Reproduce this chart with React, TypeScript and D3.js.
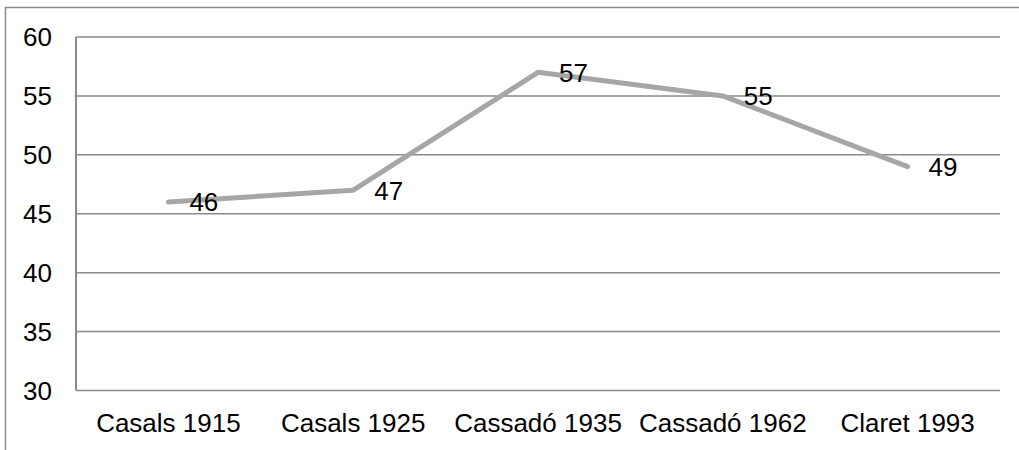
import React from "react";
import * as d3 from "d3";

const categories = ["Casals 1915", "Casals 1925", "Cassadó 1935", "Cassadó 1962", "Claret 1993"];
const values = [46, 47, 57, 55, 49];
const yTicks = [30, 35, 40, 45, 50, 55, 60];

const W = 1019;
const H = 450;
const margin = { left: 76, right: 19, top: 37, bottom: 59.5 };
const font = "'Liberation Sans', Arial, sans-serif";

const App = () => {
  const x = d3
    .scaleBand()
    .domain(categories)
    .range([margin.left, W - margin.right]);
  const y = d3
    .scaleLinear()
    .domain([30, 60])
    .range([H - margin.bottom, margin.top]);

  const line = d3
    .line<number>()
    .x((d, i) => x(categories[i])! + x.bandwidth() / 2)
    .y((d) => y(d));

  return (
    <svg width={W} height={H} style={{ position: "absolute", left: 0, top: 0 }} fontFamily={font}>
      <rect width={W} height={H} fill="#fff" />
      {/* outer frame */}
      <path d={`M5.5,${H} V7.5 H${W}`} fill="none" stroke="#8c8c8c" strokeWidth="1.5" />
      {yTicks.map((t) => (
        <g key={t}>
          <line x1={margin.left} x2={W - margin.right} y1={y(t)} y2={y(t)} stroke="#8a8a8a" strokeWidth="1.5" />
          <text x={52} y={y(t)} dy="0.35em" textAnchor="end" fontSize="26" fill="#000">
            {t}
          </text>
        </g>
      ))}
      <line x1={margin.left} x2={margin.left} y1={margin.top} y2={H - margin.bottom} stroke="#8a8a8a" strokeWidth="2" />
      {categories.map((c) => (
        <text key={c} x={x(c)! + x.bandwidth() / 2} y={432} textAnchor="middle" fontSize="26" fill="#000">
          {c}
        </text>
      ))}
      <path d={line(values)!} fill="none" stroke="#a6a6a6" strokeWidth="5" strokeLinecap="round" strokeLinejoin="round" />
      {values.map((v, i) => (
        <text key={i} x={x(categories[i])! + x.bandwidth() / 2 + 21} y={y(v)} dy="0.36em" fontSize="26" fill="#000">
          {v}
        </text>
      ))}
    </svg>
  );
};

export default App;
